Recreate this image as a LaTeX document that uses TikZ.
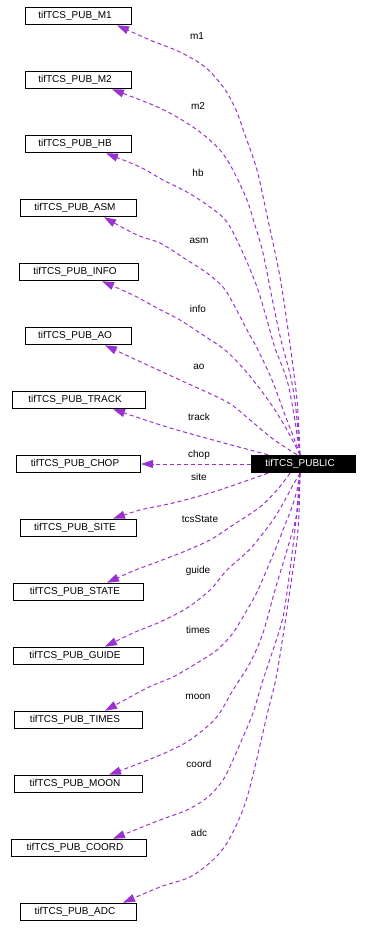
\documentclass[tikz,border=0pt]{standalone}
\usepackage{fontspec}
\setmainfont{Liberation Sans}
\usetikzlibrary{arrows.meta}
\definecolor{edgec}{HTML}{9A32CD}
\begin{document}
\begin{tikzpicture}[x=1pt,y=-1pt,
  box/.style={draw=black, line width=1pt, minimum height=17.5pt, inner sep=0pt,
    font=\fontsize{10}{12}\selectfont, execute at begin node={\kern-7pt}},
  pubbox/.style={box, fill=black, text=white},
  edge/.style={draw=edgec, line width=1pt, dash pattern=on 4pt off 3pt,
    -{Triangle[length=12pt,width=8pt]}},
  elabel/.style={font=\fontsize{10}{12}\selectfont, inner sep=0pt}]
\useasboundingbox (0,0) rectangle (367,938);

% nodes
\node[box, minimum width=106pt] (m1)    at (78.5,16)  {tifTCS\_PUB\_M1};
\node[box, minimum width=106pt] (m2)    at (78.5,80)  {tifTCS\_PUB\_M2};
\node[box, minimum width=106pt] (hb)    at (78.5,144) {tifTCS\_PUB\_HB};
\node[box, minimum width=116pt] (asm)   at (78.5,208) {tifTCS\_PUB\_ASM};
\node[box, minimum width=119pt] (info)  at (78.5,272) {tifTCS\_PUB\_INFO};
\node[box, minimum width=106pt] (ao)    at (78.5,336) {tifTCS\_PUB\_AO};
\node[box, minimum width=133pt] (track) at (78.5,400) {tifTCS\_PUB\_TRACK};
\node[box, minimum width=124pt] (chop)  at (78.5,464) {tifTCS\_PUB\_CHOP};
\node[box, minimum width=116pt] (site)  at (78.5,528) {tifTCS\_PUB\_SITE};
\node[box, minimum width=130pt] (state) at (78.5,592) {tifTCS\_PUB\_STATE};
\node[box, minimum width=130pt] (guide) at (78.5,656) {tifTCS\_PUB\_GUIDE};
\node[box, minimum width=128pt] (times) at (78.5,720) {tifTCS\_PUB\_TIMES};
\node[box, minimum width=128pt] (moon)  at (78.5,784) {tifTCS\_PUB\_MOON};
\node[box, minimum width=135pt] (coord) at (78.5,848) {tifTCS\_PUB\_COORD};
\node[box, minimum width=116pt] (adc)   at (78.5,912) {tifTCS\_PUB\_ADC};
\node[pubbox, minimum width=104pt] (pub) at (303.5,464) {tifTCS\_PUBLIC};

% edge labels
\node[elabel] (lm1)    at (197,36)  {m1};
\node[elabel] (lm2)    at (198,106) {m2};
\node[elabel] (lhb)    at (198,173) {hb};
\node[elabel] (lasm)   at (199,241) {asm};
\node[elabel] (linfo)  at (198,309) {info};
\node[elabel] (lao)    at (199,367) {ao};
\node[elabel] (ltrack) at (199,417) {track};
\node[elabel] (lchop)  at (199,455) {chop};
\node[elabel] (lsite)  at (199,477) {site};
\node[elabel] (lstate) at (200,519) {tcsState};
\node[elabel] (lguide) at (198,571) {guide};
\node[elabel] (ltimes) at (198,630) {times};
\node[elabel] (lmoon)  at (198,697) {moon};
\node[elabel] (lcoord) at (199,764) {coord};
\node[elabel] (ladc)   at (199,833) {adc};

% connector end points
\coordinate (pA)  at ([xshift=-3.5pt]pub.north);
\coordinate (pAo) at ([xshift=-6.5pt]pub.north);
\coordinate (pTr) at ([xshift=-35.5pt]pub.north);
\coordinate (qA)  at ([xshift=-3.5pt]pub.south);
\coordinate (qSt) at ([xshift=-13.5pt]pub.south);
\coordinate (qSi) at ([xshift=-35.5pt]pub.south);

\coordinate (m1e)    at ([xshift=38.5pt]m1.south);
\coordinate (m2e)    at ([xshift=33.5pt]m2.south);
\coordinate (hbe)    at ([xshift=27.5pt]hb.south);
\coordinate (asme)   at ([xshift=25.5pt]asm.south);
\coordinate (infoe)  at ([xshift=23.5pt]info.south);
\coordinate (aoe)    at ([xshift=26.5pt]ao.south);
\coordinate (tracke) at ([xshift=34.5pt]track.south);
\coordinate (sitee)  at ([xshift=34.5pt]site.north);
\coordinate (statee) at ([xshift=28.5pt]state.north);
\coordinate (guidee) at ([xshift=26.5pt]guide.north);
\coordinate (timese) at ([xshift=26.5pt]times.north);
\coordinate (moone)  at ([xshift=30.5pt]moon.north);
\coordinate (coorde) at ([xshift=34.5pt]coord.north);
\coordinate (adce)   at ([xshift=44.5pt]adc.north);

% upper connectors
\draw[edge] plot[smooth, tension=0.5] coordinates {(pA) (297,400) (289,337) (280,277) (268,220) (257,170) (245,135) (236,110) (224,88) (205,67) (180,52) (150,40) (m1e)};
\draw[edge] plot[smooth, tension=0.5] coordinates {(pA) (296,410) (291,378) (281,340) (273,303) (263,253) (254,222) (247,200) (233,170) (220,150) (200,132) (177,117) (153,105) (m2e)};
\draw[edge] plot[smooth, tension=0.5] coordinates {(pA) (294,415) (287,380) (275,348) (267,320) (257,287) (243,253) (227,222) (210,207) (187,192) (163,180) (140,167) (hbe)};
\draw[edge] plot[smooth, tension=0.5] coordinates {(pA) (292,433) (285,415) (272,380) (257,348) (247,330) (233,303) (223,287) (207,273) (187,260) (160,243) (137,235) (asme)};
\draw[edge] plot[smooth, tension=0.5] coordinates {(pA) (287,430) (273,407) (257,385) (243,368) (225,350) (203,335) (180,320) (157,308) (133,295) (infoe)};
\draw[edge] plot[smooth, tension=0.5] coordinates {(pAo) (273,439) (250,420) (227,402) (180,380) (143,363) (aoe)};
\draw[edge] plot[smooth, tension=0.5] coordinates {(pTr) (250,450) (213,440) (167,427) (tracke)};
\draw[edge] (pub.west) -- (chop.east);

% lower connectors
\draw[edge] plot[smooth, tension=0.5] coordinates {(qSi) (240,483) (210,493) (173,503) (140,510) (sitee)};
\draw[edge] plot[smooth, tension=0.5] coordinates {(qSt) (277,490) (260,507) (233,525) (210,540) (183,552) (157,562) (133,571) (statee)};
\draw[edge] plot[smooth, tension=0.5] coordinates {(qA) (293,485) (285,500) (273,520) (251,548) (227,570) (210,590) (187,608) (160,622) (133,633) (guidee)};
\draw[edge] plot[smooth, tension=0.5] coordinates {(qA) (297,490) (292,507) (285,525) (275,550) (258,590) (247,610) (233,633) (217,650) (197,663) (173,677) (147,688) (timese)};
\draw[edge] plot[smooth, tension=0.5] coordinates {(qA) (297,513) (287,550) (275,590) (263,633) (250,663) (233,690) (216,718) (190,740) (167,752) (143,762) (moone)};
\draw[edge] plot[smooth, tension=0.5] coordinates {(qA) (296,520) (290,570) (283,617) (273,650) (263,680) (253,713) (243,737) (233,760) (223,780) (208,797) (187,810) (160,820) (coorde)};
\draw[edge] plot[smooth, tension=0.5] coordinates {(qA) (298,530) (290,590) (277,673) (267,715) (250,787) (240,817) (227,843) (213,860) (190,877) (160,887) (adce)};
\end{tikzpicture}
\end{document}
